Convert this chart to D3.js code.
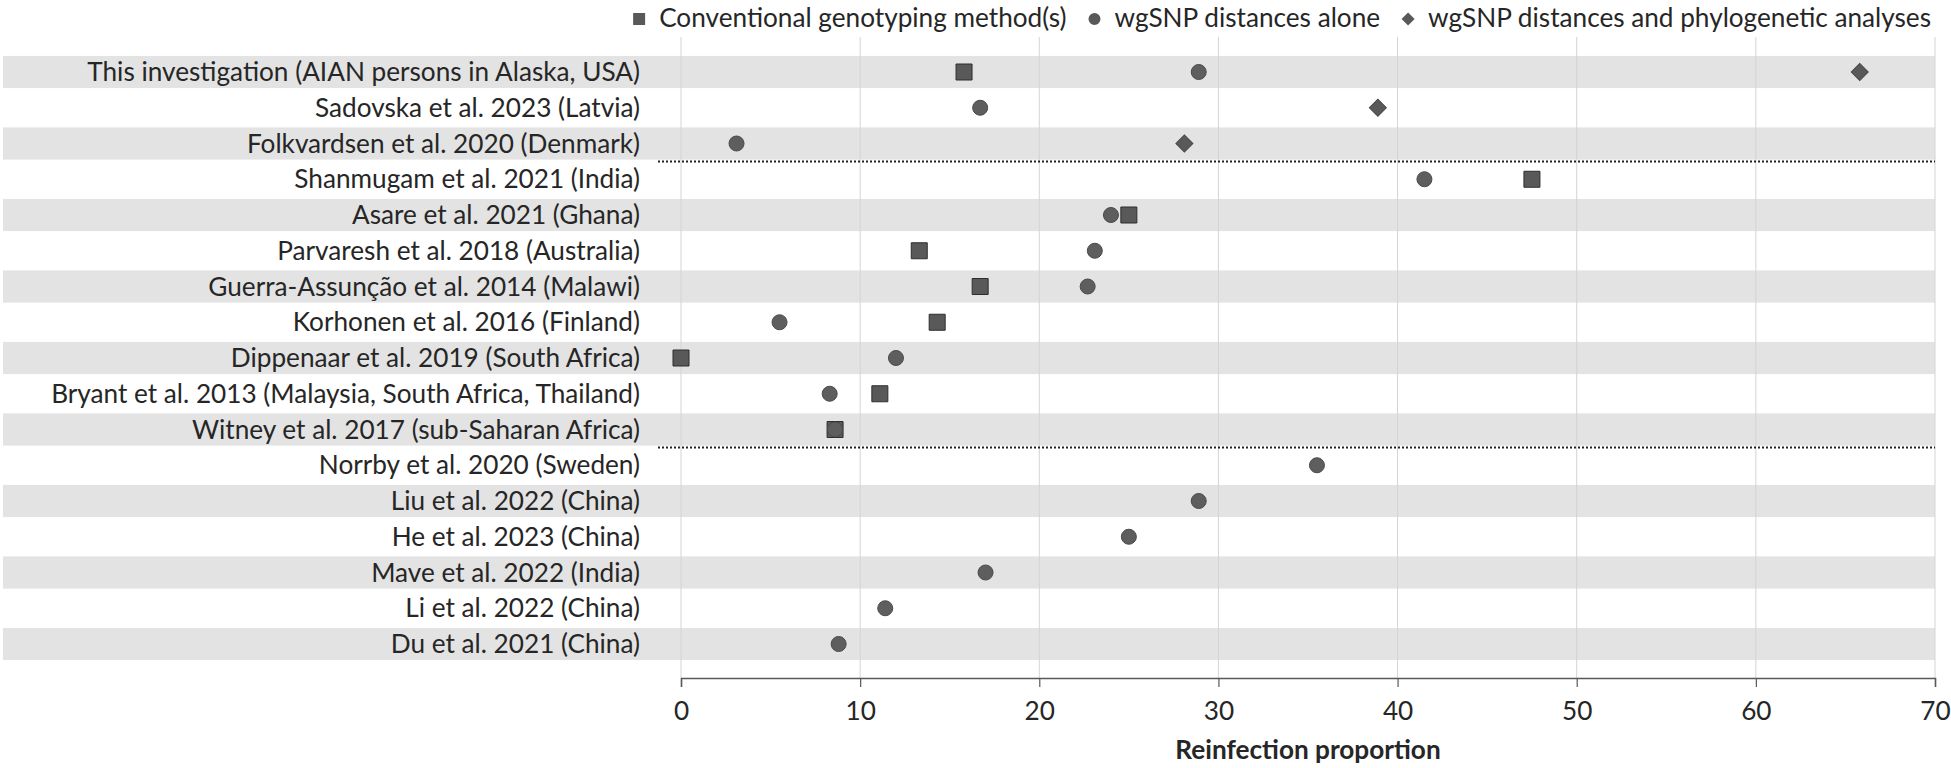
<!DOCTYPE html>
<html>
<head>
<meta charset="utf-8">
<script src="https://cdn.jsdelivr.net/npm/d3@7"></script>
<style>
  body { margin: 0; background: #fff; }
  svg text { font-family: Lato, "Open Sans", sans-serif; fill: #262626; }
</style>
</head>
<body>
<div class="chart"></div>
<script>
// data
var studies = [
    "This investigation (AIAN persons in Alaska, USA)",
    "Sadovska et al. 2023 (Latvia)",
    "Folkvardsen et al. 2020 (Denmark)",
    "Shanmugam et al. 2021 (India)",
    "Asare et al. 2021 (Ghana)",
    "Parvaresh et al. 2018 (Australia)",
    "Guerra-Assunção et al. 2014 (Malawi)",
    "Korhonen et al. 2016 (Finland)",
    "Dippenaar et al. 2019 (South Africa)",
    "Bryant et al. 2013 (Malaysia, South Africa, Thailand)",
    "Witney et al. 2017 (sub-Saharan Africa)",
    "Norrby et al. 2020 (Sweden)",
    "Liu et al. 2022 (China)",
    "He et al. 2023 (China)",
    "Mave et al. 2022 (India)",
    "Li et al. 2022 (China)",
    "Du et al. 2021 (China)"
];
var conventional = [15.8, null, null, 47.5, 25.0, 13.3, 16.7, 14.3, 0, 11.1, 8.6, null, null, null, null, null, null];
var wgsnpAlone   = [28.9, 16.7, 3.1, 41.5, 24.0, 23.1, 22.7, 5.5, 12.0, 8.3, 8.6, 35.5, 28.9, 25.0, 17.0, 11.4, 8.8];
var wgsnpPhylo   = [65.8, 38.9, 28.1, null, null, null, null, null, null, null, null, null, null, null, null, null, null];
var xTicks = [0, 10, 20, 30, 40, 50, 60, 70];
var separatorAfter = [2, 10];
var seriesNames = ["Conventional genotyping method(s)", "wgSNP distances alone", "wgSNP distances and phylogenetic analyses"];

var W = 1951, H = 768;
var fontSize = 23;
var markColor = "#595959";

var svg = d3.select(".chart").append("svg").attr("width", W).attr("height", H);

var x = d3.scaleLinear().domain([0, 70]).range([681, 1935]);
var y = d3.scalePoint().domain(d3.range(studies.length)).range([72, 644]);
var step = y.step();
var axisY = 678;

// shaded rows
svg.append("g").selectAll("rect")
    .data(d3.range(studies.length).filter(function(i){ return i % 2 == 0; }))
    .enter().append("rect")
    .attr("x", 3)
    .attr("width", x(70) - 3)
    .attr("y", function(i){ return y(i) - step * 0.45; })
    .attr("height", step * 0.9)
    .attr("fill", "#e3e3e3");

// grid
svg.append("g").selectAll("line")
    .data(xTicks).enter().append("line")
    .attr("x1", function(d){ return x(d); })
    .attr("x2", function(d){ return x(d); })
    .attr("y1", 37).attr("y2", axisY)
    .attr("stroke", "#d4d4d4").attr("stroke-width", 1);

// dotted separators
svg.append("g").selectAll("line")
    .data(separatorAfter).enter().append("line")
    .attr("x1", 658).attr("x2", x(70))
    .attr("y1", function(i){ return y(i) + step / 2; })
    .attr("y2", function(i){ return y(i) + step / 2; })
    .attr("stroke", "#222").attr("stroke-width", 2)
    .attr("stroke-dasharray", "2,2");

// row labels
var labels = svg.append("g").selectAll("text")
    .data(studies).enter().append("text")
    .attr("x", 640)
    .attr("y", function(d, i){ return y(i); })
    .attr("dy", "0.35em")
    .attr("text-anchor", "end")
    .style("font-size", fontSize + "px")
    .text(function(d){ return d; });

// fit font size so the longest label spans like in the reference
var longest = labels.nodes()[0].getComputedTextLength();
fontSize = fontSize * 553 / longest;
labels.style("font-size", fontSize + "px");

// x axis
var axis = svg.append("g")
    .attr("transform", "translate(0," + axisY + ")")
    .call(d3.axisBottom(x).tickValues(xTicks).tickSize(9).tickPadding(14).tickFormat(d3.format("d")));
axis.select(".domain").attr("stroke", "#595959").attr("stroke-width", 1.5);
axis.selectAll(".tick line").attr("stroke", "#595959").attr("stroke-width", 1.2);
axis.selectAll(".tick text")
    .style("font-size", fontSize + "px")
    .style("font-family", "Lato, sans-serif")
    .attr("fill", "#333");

svg.append("text")
    .attr("x", (x(0) + x(70)) / 2)
    .attr("y", 750)
    .attr("dy", "0.35em")
    .attr("text-anchor", "middle")
    .style("font-size", fontSize + "px")
    .style("font-weight", "bold")
    .text("Reinfection proportion");

// markers
var shapes = [
    { data: conventional, sym: d3.symbol().type(d3.symbolSquare).size(256), rot: 0, stroke: "#2e2e2e", fill: markColor },
    { data: wgsnpAlone, sym: d3.symbol().type(d3.symbolCircle).size(177), rot: 0, stroke: "#4a4a4a", fill: "#5e5e5e" },
    { data: wgsnpPhylo, sym: d3.symbol().type(d3.symbolSquare).size(144), rot: 45, stroke: "#4a4a4a", fill: markColor }
];
shapes.forEach(function(s){
    svg.append("g").selectAll("path")
        .data(s.data.map(function(v, i){ return { v: v, i: i }; }).filter(function(d){ return d.v != null; }))
        .enter().append("path")
        .attr("d", s.sym)
        .attr("transform", function(d){ return "translate(" + x(d.v) + "," + y(d.i) + ") rotate(" + s.rot + ")"; })
        .attr("fill", s.fill)
        .attr("stroke", s.stroke)
        .attr("stroke-width", 1);
});

// legend, laid out from the right edge
var legendSyms = [
    { sym: d3.symbol().type(d3.symbolSquare).size(144), rot: 0 },
    { sym: d3.symbol().type(d3.symbolCircle).size(113), rot: 0 },
    { sym: d3.symbol().type(d3.symbolSquare).size(85), rot: 45 }
];
var legend = svg.append("g");
var legendY = 18;
var right = 1931;
for (var k = seriesNames.length - 1; k >= 0; k--) {
    var t = legend.append("text")
        .attr("y", legendY).attr("dy", "0.35em")
        .style("font-size", fontSize + "px")
        .text(seriesNames[k]);
    var w = t.node().getComputedTextLength();
    var tx = right - w;
    t.attr("x", tx);
    legend.append("path")
        .attr("d", legendSyms[k].sym)
        .attr("transform", "translate(" + (tx - 20) + "," + (legendY + 1) + ") rotate(" + legendSyms[k].rot + ")")
        .attr("fill", markColor);
    right = tx - 20 - 28;
}
</script>
</body>
</html>
